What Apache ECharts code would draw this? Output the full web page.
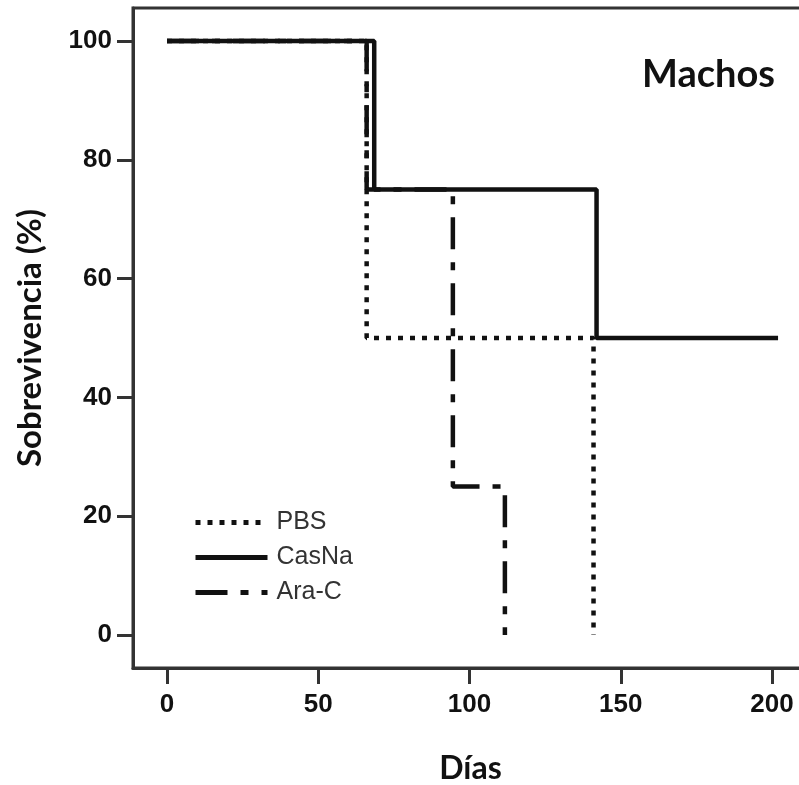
<!DOCTYPE html>
<html>
  <head>
  <meta charset="utf-8">
    <script type="text/javascript" src="https://cdn.jsdelivr.net/npm/echarts@6/dist/echarts.min.js"></script>
  </head>
 <body style="margin:0;background:#fff">
     <div id="main" style="width:799px;height:785px;"></div>
     <script type="text/javascript">
    // curvas de supervivencia (dia, % supervivencia) en cada evento
    var seriesNames = ['PBS', 'CasNa', 'Ara-C'];
    var pbs = [[0, 100], [66, 50], [141, 0]];
    var casna = [[0, 100], [68.5, 75], [142, 50], [202, 50]];
    var arac = [[0, 100], [66, 75], [94.5, 25], [111.7, 0]];
    var xTicks = [0, 50, 100, 150, 200];
    var yTicks = [0, 20, 40, 60, 80, 100];

    var myChart = echarts.init(document.getElementById('main'));
    var numFont = '"Liberation Sans", Arial, sans-serif';
    var titleFont = 'Lato, "Open Sans", sans-serif';

    function curve(name, data, dash) {
        return {
            name: name,
            type: 'line',
            step: 'end',
            data: data,
            symbol: 'none',
            animation: false,
            itemStyle: { color: '#111' },
            lineStyle: { color: '#111', width: 4.5, type: dash, cap: 'butt' }
        };
    }

    var option = {
        backgroundColor: '#fff',
        title: {
            text: 'Machos',
            left: 637, top: 51,
            textStyle: { fontFamily: titleFont, fontWeight: 'bold', fontSize: 38, color: '#111' }
        },
        legend: {
            data: seriesNames,
            orient: 'vertical',
            left: 188, top: 505,
            itemWidth: 72, itemHeight: 25, itemGap: 10,
            itemStyle: { opacity: 0 },
            lineStyle: { width: 5 },
            textStyle: { fontFamily: numFont, fontSize: 25, color: '#333', padding: [0, 0, 0, 4], lineHeight: 25 }
        },
        grid: {
            left: 133, top: 8, width: 675, height: 660,
            outerBoundsMode: 'none',
            show: true, borderColor: '#333', borderWidth: 3
        },
        xAxis: {
            type: 'value',
            min: -11.24, max: 211.9,
            name: 'Días', nameLocation: 'middle', nameGap: 85,
            nameTextStyle: { fontFamily: titleFont, fontWeight: 'bold', fontSize: 32, color: '#111' },
            axisLine: { onZero: false, lineStyle: { color: '#333', width: 3 } },
            axisTick: { customValues: xTicks, length: 16, lineStyle: { color: '#333', width: 3 } },
            axisLabel: { customValues: xTicks, margin: 24, fontFamily: numFont, fontWeight: 'bold', fontSize: 26, color: '#111' },
            splitLine: { show: false }
        },
        yAxis: {
            type: 'value',
            min: -5.56, max: 105.56,
            name: 'Sobrevivencia (%)', nameLocation: 'middle', nameGap: 86,
            nameTextStyle: { fontFamily: titleFont, fontWeight: 'bold', fontSize: 33, color: '#111' },
            axisLine: { show: true, onZero: false, lineStyle: { color: '#333', width: 3 } },
            axisTick: { show: true, customValues: yTicks, length: 16, lineStyle: { color: '#333', width: 3 } },
            axisLabel: { customValues: yTicks, margin: 21, fontFamily: numFont, fontWeight: 'bold', fontSize: 26, color: '#111' },
            splitLine: { show: false }
        },
        series: [
            curve('PBS', pbs, [5, 7]),
            curve('CasNa', casna, 'solid'),
            curve('Ara-C', arac, [32, 13, 8, 13])
        ]
    };
    myChart.setOption(option);
    </script>
  </body>
</html>
